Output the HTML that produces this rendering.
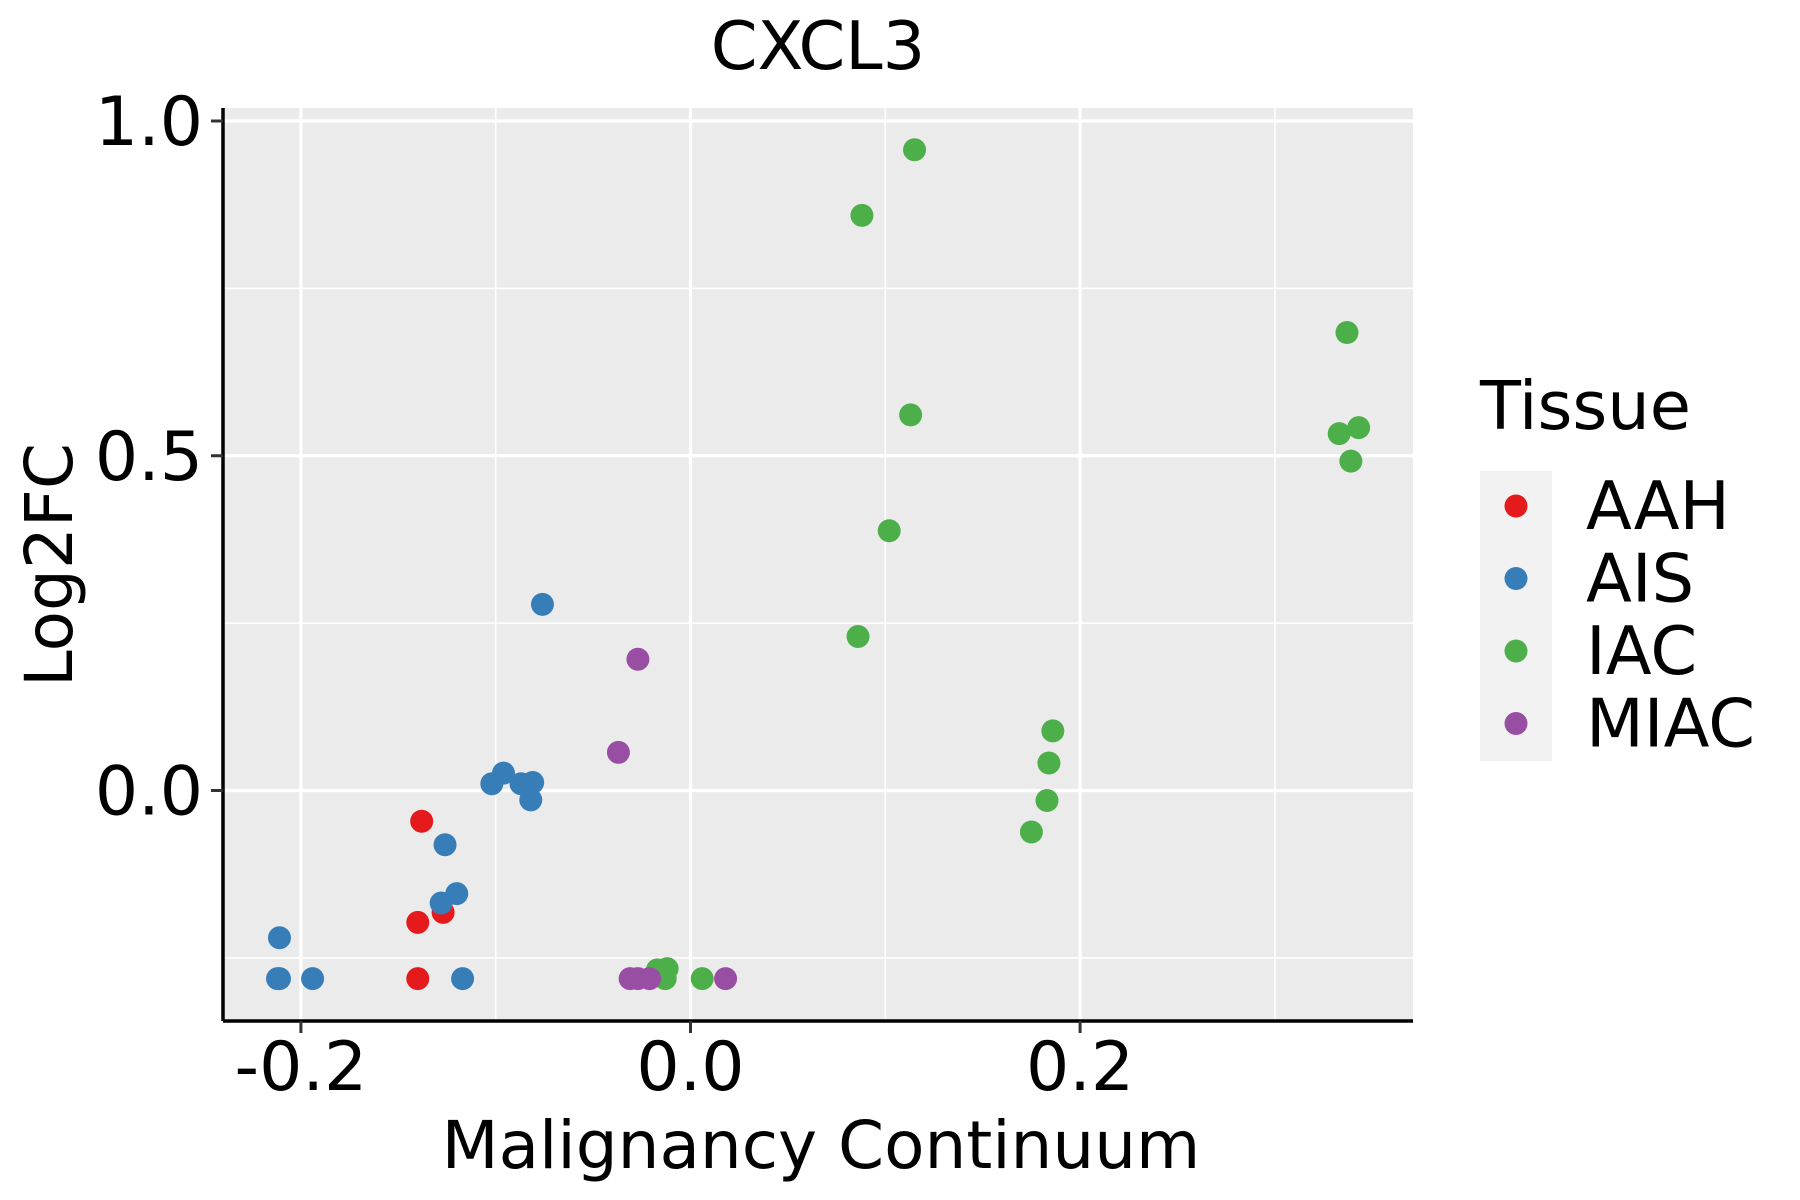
<!DOCTYPE html>
<html><head><meta charset="utf-8"><style>html,body{margin:0;padding:0;background:#fff;width:1800px;height:1200px;overflow:hidden}svg{display:block}text{font-family:"DejaVu Sans","Liberation Sans",sans-serif}</style></head>
<body>
<svg id="chart" width="1800" height="1200" viewBox="0 0 1800 1200" xmlns="http://www.w3.org/2000/svg">
<text x="818" y="69" font-size="67" text-anchor="middle">CXCL3</text>
<rect x="223" y="108" width="1190" height="913" fill="#ebebeb"/>
<g id="grid"></g>
<g id="points"></g>
<line x1="223" y1="1021" x2="1413" y2="1021" stroke="#000" stroke-width="3.5"/>
<line x1="223" y1="108" x2="223" y2="1021" stroke="#000" stroke-width="3.5"/>
<g id="ticks"></g>
<text x="821" y="1168" font-size="66" text-anchor="middle">Malignancy Continuum</text>
<text transform="translate(72,565) rotate(-90)" font-size="66" text-anchor="middle">Log2FC</text>
<g>
<text x="1480" y="429" font-size="67">Tissue</text>
<rect x="1480" y="471" width="72" height="290" fill="#f2f2f2"/>
<g id="legend-entries"></g>
</g>
</svg>
<script>
const xTicks=[-0.2,0.0,0.2];
const xTickLabels=["-0.2","0.0","0.2"];
const xMinor=[-0.1,0.1,0.3];
const yTicks=[0.0,0.5,1.0];
const yTickLabels=["0.0","0.5","1.0"];
const yMinor=[-0.25,0.25,0.75];
const groups=["AAH","AIS","IAC","MIAC"];
const colors=["#e41a1c","#377eb8","#4daf4a","#984ea3"];
const aahX=[-0.138,-0.140,-0.127,-0.140];
const aahY=[-0.046,-0.197,-0.182,-0.281];
const aisX=[-0.211,-0.211,-0.212,-0.194,-0.117,-0.126,-0.128,-0.120,-0.102,-0.096,-0.087,-0.081,-0.082,-0.076];
const aisY=[-0.220,-0.281,-0.281,-0.281,-0.281,-0.081,-0.168,-0.154,0.010,0.026,0.010,0.012,-0.014,0.278];
const iacX=[0.115,0.088,0.113,0.102,0.086,0.337,0.333,0.343,0.339,0.186,0.184,0.183,0.175,-0.017,-0.012,-0.013,0.006];
const iacY=[0.957,0.859,0.561,0.388,0.230,0.684,0.533,0.542,0.492,0.089,0.041,-0.015,-0.062,-0.268,-0.266,-0.281,-0.281];
const miacX=[-0.027,-0.037,-0.031,-0.027,-0.021,0.018];
const miacY=[0.196,0.057,-0.281,-0.281,-0.281,-0.281];
const NS="http://www.w3.org/2000/svg";
const xs=v=>690.5+v*1948;
const ys=v=>790.5-v*669.5;
function mk(tag,attrs,parent){const e=document.createElementNS(NS,tag);for(const k in attrs)e.setAttribute(k,attrs[k]);parent.appendChild(e);return e;}
const grid=document.getElementById('grid');
xMinor.forEach(v=>{const l=mk('line',{x1:xs(v),x2:xs(v),y1:108,y2:1021,stroke:'#fff','stroke-width':1.6},grid);

});
yMinor.forEach(v=>{const l=mk('line',{x1:223,x2:1413,y1:ys(v),y2:ys(v),stroke:'#fff','stroke-width':1.6},grid);

});
xTicks.forEach(v=>{const l=mk('line',{x1:xs(v),x2:xs(v),y1:108,y2:1021,stroke:'#fff','stroke-width':3.2},grid);

});
yTicks.forEach(v=>{const l=mk('line',{x1:223,x2:1413,y1:ys(v),y2:ys(v),stroke:'#fff','stroke-width':3.2},grid);

});
const ticks=document.getElementById('ticks');
xTicks.forEach((v,i)=>{const t=mk('line',{x1:xs(v),x2:xs(v),y1:1021,y2:1033,stroke:'#333','stroke-width':3},ticks);


const tx=mk('text',{x:xs(v),y:1090,'font-size':68,'text-anchor':'middle',fill:'#000'},ticks);tx.textContent=xTickLabels[i];

});
yTicks.forEach((v,i)=>{const t=mk('line',{x1:211,x2:223,y1:ys(v),y2:ys(v),stroke:'#333','stroke-width':3},ticks);


const tx=mk('text',{x:203,y:ys(v)+24,'font-size':68,'text-anchor':'end',fill:'#000'},ticks);tx.textContent=yTickLabels[i];

});
const pts=document.getElementById('points');
const series=[[aahX,aahY],[aisX,aisY],[iacX,iacY],[miacX,miacY]];
series.forEach((s,g)=>{s[0].forEach((x,i)=>{const c=mk('circle',{cx:xs(x),cy:ys(s[1][i]),r:11.5,fill:colors[g]},pts);

});});
const le=document.getElementById('legend-entries');
groups.forEach((g,i)=>{const y=506+i*72.5;
const c=mk('circle',{cx:1516,cy:y,r:11.5,fill:colors[i]},le);


const t=mk('text',{x:1586,y:y+23,'font-size':67},le);t.textContent=g;

});
</script>
</body></html>
